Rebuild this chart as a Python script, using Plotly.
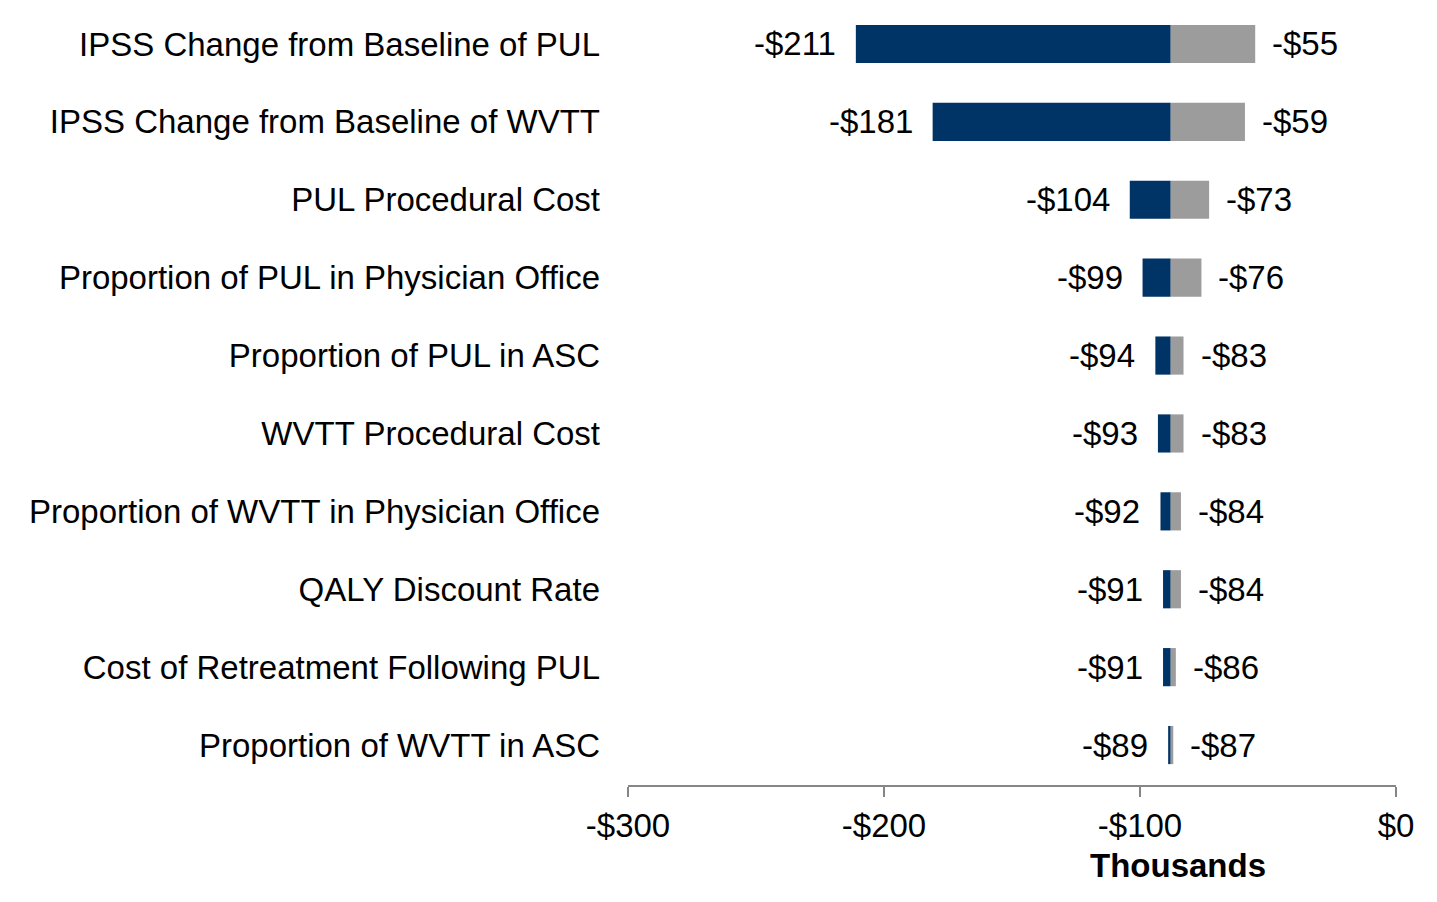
import plotly.graph_objects as go

categories = [
    "IPSS Change from Baseline of PUL",
    "IPSS Change from Baseline of WVTT",
    "PUL Procedural Cost",
    "Proportion of PUL in Physician Office",
    "Proportion of PUL in ASC",
    "WVTT Procedural Cost",
    "Proportion of WVTT in Physician Office",
    "QALY Discount Rate",
    "Cost of Retreatment Following PUL",
    "Proportion of WVTT in ASC",
]
low_values = [-211, -181, -104, -99, -94, -93, -92, -91, -91, -89]
high_values = [-55, -59, -73, -76, -83, -83, -84, -84, -86, -87]
base_value = -88
tick_vals = [-300, -200, -100, 0]
tick_text = ["-$300", "-$200", "-$100", "$0"]

DARK = "#003366"
GRAY = "#9c9c9c"
FONT = "Liberation Sans, Arial, sans-serif"
FS = 33

fig = go.Figure()
fig.add_trace(go.Bar(
    y=categories, x=[base_value - v for v in low_values], base=low_values,
    orientation="h", marker=dict(color=DARK, line=dict(width=0)), width=0.49,
    hoverinfo="skip", showlegend=False,
))
fig.add_trace(go.Bar(
    y=categories, x=[v - base_value for v in high_values], base=[base_value] * len(high_values),
    orientation="h", marker=dict(color=GRAY, line=dict(width=0)), width=0.49,
    hoverinfo="skip", showlegend=False,
))

for c, lo, hi in zip(categories, low_values, high_values):
    fig.add_annotation(x=lo, y=c, text=f"-${abs(lo)}", showarrow=False,
                       xanchor="right", xshift=-18, font=dict(size=FS, color="black", family=FONT))
    fig.add_annotation(x=hi, y=c, text=f"-${abs(hi)}", showarrow=False,
                       xanchor="left", xshift=15, font=dict(size=FS, color="black", family=FONT))

fig.add_annotation(x=-85.2, xref="x", y=-0.104, yref="paper", text="<b>Thousands</b>",
                   showarrow=False, yanchor="middle", font=dict(size=FS, color="black", family=FONT))

fig.update_layout(
    width=1437, height=902,
    margin=dict(l=620, r=49, t=0, b=125),
    barmode="overlay",
    plot_bgcolor="white", paper_bgcolor="white",
    font=dict(family=FONT, size=FS, color="black"),
    xaxis=dict(range=[-300, 0], tickvals=tick_vals, ticktext=tick_text,
               showgrid=False, zeroline=False, showline=True, linecolor="#868686",
               linewidth=2, ticks="outside", ticklen=10, tickwidth=2, tickcolor="#868686",
               tickfont=dict(size=FS, color="black", family=FONT)),
    yaxis=dict(categoryorder="array", categoryarray=categories, range=[9.513, -0.462],
               showgrid=False, zeroline=False, showline=False, ticks="",
               ticklabelstandoff=27,
               tickfont=dict(size=FS, color="black", family=FONT)),
)

fig.write_html("out.html")
